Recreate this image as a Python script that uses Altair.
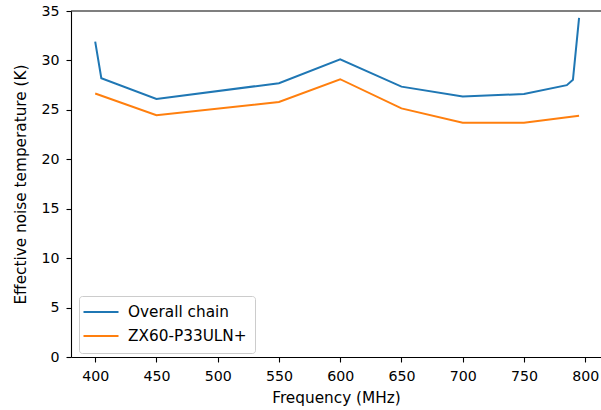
import altair as alt
import pandas as pd

# Overall chain noise temperature
chain_freq = [400, 405, 450, 550, 600, 650, 700, 750, 785, 790, 795]
chain_temp = [31.9, 28.2, 26.1, 27.7, 30.1, 27.35, 26.35, 26.6, 27.5, 28.05, 34.3]

# Amplifier alone
amp_freq = [400, 450, 550, 600, 650, 700, 750, 795]
amp_temp = [26.65, 24.45, 25.8, 28.1, 25.15, 23.7, 23.7, 24.4]

series_names = ["Overall chain", "ZX60-P33ULN+"]
series_colors = ["#1f77b4", "#ff7f0e"]

x_ticks = [400, 450, 500, 550, 600, 650, 700, 750, 800]
y_ticks = [0, 5, 10, 15, 20, 25, 30, 35]

df = pd.concat([
    pd.DataFrame({"freq": chain_freq, "temp": chain_temp, "series": series_names[0], "order": range(len(chain_freq))}),
    pd.DataFrame({"freq": amp_freq, "temp": amp_temp, "series": series_names[1], "order": range(len(amp_freq))}),
])

W, H = 530, 346
FONT = "DejaVu Sans"
TICK_FS = 14.2
TEXT_FS = 15.3

lines = alt.Chart(df).mark_line(strokeWidth=2).encode(
    x=alt.X("freq:Q",
            scale=alt.Scale(domain=[380.25, 812.9], nice=False, zero=False),
            axis=alt.Axis(values=x_ticks, title="Frequency (MHz)", grid=False,
                          titlePadding=7)),
    y=alt.Y("temp:Q",
            scale=alt.Scale(domain=[0, 35], nice=False),
            axis=alt.Axis(values=y_ticks, title="Effective noise temperature (K)", grid=False,
                          titlePadding=12)),
    color=alt.Color("series:N",
                    scale=alt.Scale(domain=series_names, range=series_colors),
                    legend=alt.Legend(title=None, orient="none", legendX=8, legendY=285,
                                      fillColor="white", strokeColor="#cccccc",
                                      cornerRadius=3, padding=8,
                                      symbolType="M-2.5,0H2.5", symbolSize=196,
                                      symbolStrokeWidth=2, symbolOffset=6,
                                      labelOffset=19, rowPadding=7,
                                      labelFont=FONT, labelFontSize=TEXT_FS, labelColor="black")),
    order="order:Q",
)

top_spine = alt.Chart(pd.DataFrame({"v": [0]})).mark_rule(color="black", strokeWidth=1.1).encode(
    y=alt.value(0), x=alt.value(0), x2=alt.value(W)
)

chart = alt.layer(lines, top_spine).properties(
    width=W, height=H,
    autosize=alt.AutoSizeParams(type="none"),
    padding={"left": 71, "top": 11, "right": 0, "bottom": 53},
).configure_view(stroke=None).configure_axis(
    labelFont=FONT, labelFontSize=TICK_FS, labelColor="black",
    titleFont=FONT, titleFontSize=TEXT_FS, titleColor="black", titleFontWeight="normal",
    domainColor="black", domainWidth=1.1, tickColor="black", tickWidth=1.1,
    tickSize=5, labelPadding=7,
)

chart.save("out.html", embed_options={"renderer": "svg", "actions": False})
